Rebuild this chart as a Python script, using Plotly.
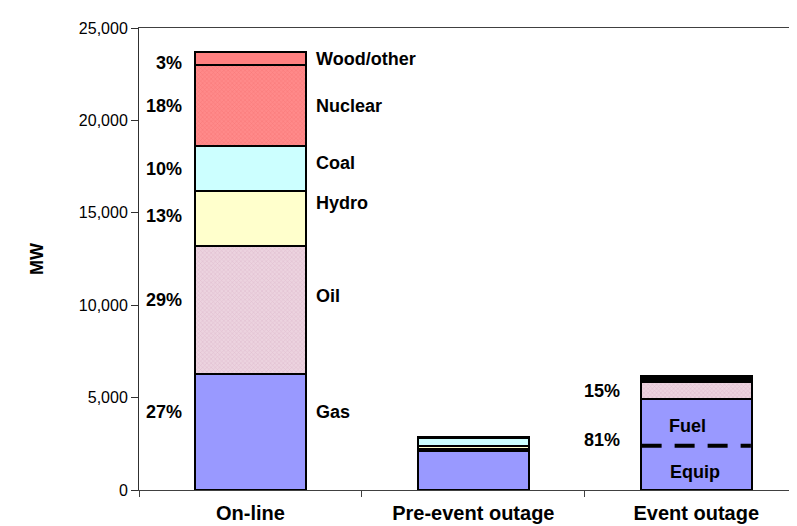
import plotly.graph_objects as go

categories = ["On-line", "Pre-event outage", "Event outage"]
fuels = ["Gas", "Oil", "Hydro", "Coal", "Nuclear", "Wood/other"]
gas = [6300, 2100, 4930]
oil = [6880, 130, 900]
hydro = [2980, 130, 70]
coal = [2430, 440, 90]
nuclear = [4390, 40, 90]
wood = [720, 30, 70]
online_pct = ["27%", "29%", "13%", "10%", "18%", "3%"]
event_pct = ["81%", "15%"]
equip_split = 2400
y_ticks = [0, 5000, 10000, 15000, 20000, 25000]

series = [gas, oil, hydro, coal, nuclear, wood]
colors = ["#9999FF", "#E6C6D6", "#FFFFCC", "#CCFFFF", "#FF8080", "#FF8080"]
patterns = [None,
            dict(shape="x", fgcolor="#D6A9C0", bgcolor="#ECD3DF", size=3, solidity=0.35),
            None, None,
            dict(shape="x", fgcolor="#F06464", bgcolor="#FF8A8A", size=3, solidity=0.3),
            None]

FONT = "Liberation Sans, Arial, sans-serif"
LBL = 18

fig = go.Figure()
for name, vals, col, pat in zip(fuels, series, colors, patterns):
    marker = dict(color=col, line=dict(color="black", width=2))
    if pat:
        marker["pattern"] = pat
    fig.add_trace(go.Bar(x=categories, y=vals, name=name, marker=marker,
                         showlegend=False, hoverinfo="x+y+name"))

# On-line labels at segment centres
cum = 0
pct_shift = [20, 10, 3, 0, 0, -4]
name_shift = [20, 14, 16, 6, 0, 0]
for i, vals in enumerate(series):
    v = vals[0]
    mid = cum + v / 2
    cum += v
    fig.add_annotation(x=0, y=mid, text="<b>%s</b>" % online_pct[i], showarrow=False,
                       xanchor="right", xshift=-66, yshift=pct_shift[i],
                       font=dict(family=FONT, size=LBL, color="black"))
    fig.add_annotation(x=0, y=mid, text="<b>%s</b>" % fuels[i], showarrow=False,
                       xanchor="left", xshift=64, yshift=name_shift[i],
                       font=dict(family=FONT, size=LBL, color="black"))

# Event outage labels
g = gas[2]
fig.add_annotation(x=2, y=g + oil[2] / 2, text="<b>%s</b>" % event_pct[1], showarrow=False,
                   xanchor="right", xshift=-74, font=dict(family=FONT, size=LBL, color="black"))
fig.add_annotation(x=2, y=equip_split, text="<b>%s</b>" % event_pct[0], showarrow=False,
                   xanchor="right", xshift=-74, yshift=6, font=dict(family=FONT, size=LBL, color="black"))
fig.add_annotation(x=2, y=(g + equip_split) / 2, text="<b>Fuel</b>", showarrow=False,
                   xshift=-9, yshift=-4, font=dict(family=FONT, size=LBL, color="black"))
fig.add_annotation(x=2, y=equip_split / 2, text="<b>Equip</b>", showarrow=False,
                   xshift=-1, yshift=-4, font=dict(family=FONT, size=LBL, color="black"))

fig.add_shape(type="line", xref="x", yref="y", x0=2 - 0.245, x1=2 + 0.245,
              y0=equip_split, y1=equip_split,
              line=dict(color="black", width=4, dash="20px,13px"))

fig.update_layout(
    width=797, height=526,
    margin=dict(l=131, r=0, t=20, b=44),
    paper_bgcolor="white", plot_bgcolor="white",
    barmode="stack", bargap=0.5,
    font=dict(family=FONT, size=16, color="black"),
    xaxis=dict(range=[-0.5, 2.488], showline=True, linecolor="#404040", linewidth=1,
               mirror=True, ticks="outside", tickson="boundaries", ticklen=6,
               tickcolor="#404040", showgrid=False, ticklabelstandoff=5,
               tickfont=dict(family=FONT, size=20, color="black"),
               tickvals=categories, ticktext=["<b>%s</b>" % c for c in categories]),
    yaxis=dict(range=[0, 25000], showline=True, linecolor="#303030", linewidth=1,
               ticks="outside", ticklen=7, tickcolor="#303030", showgrid=False,
               tickvals=y_ticks, tickformat=",", zeroline=False,
               tickfont=dict(family=FONT, size=16, color="black"),
               title=dict(text="<b>MW</b>", font=dict(family=FONT, size=18, color="black"),
                          standoff=30)),
)

fig.write_html("out.html")
